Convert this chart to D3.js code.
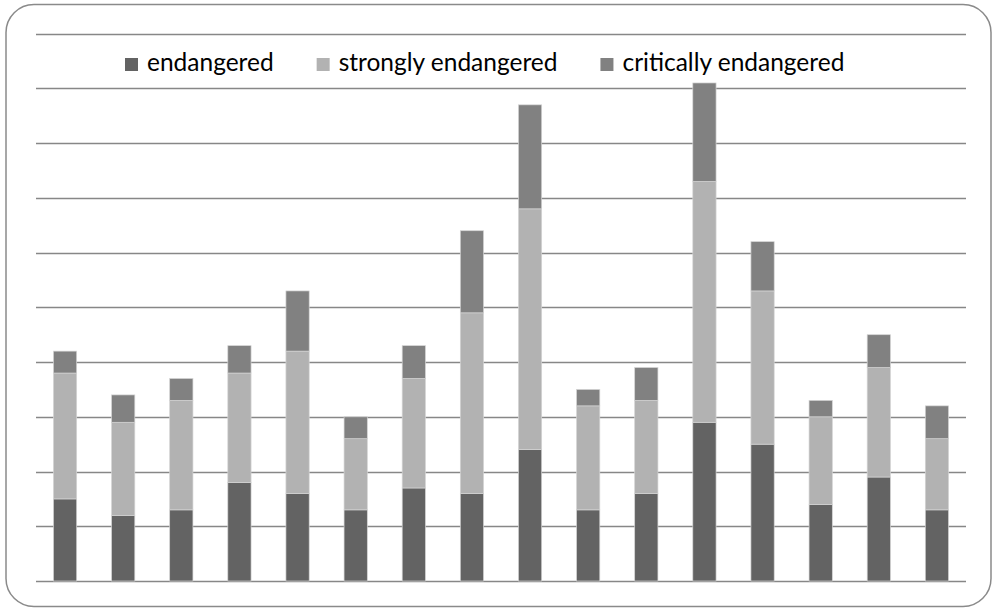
<!DOCTYPE html>
<html>
<head>
<meta charset="utf-8">
<script src="https://cdn.jsdelivr.net/npm/d3@7"></script>
<style>
  html, body { margin: 0; padding: 0; background: #fff; }
  svg { display: block; }
</style>
</head>
<body>
<svg id="chart" width="993" height="609"></svg>
<script>
// ---- data ----
const categories = ["1","2","3","4","5","6","7","8","9","10","11","12","13","14","15","16"];
const endangered         = [15, 12, 13, 18, 16, 13, 17, 16, 24, 13, 16, 29, 25, 14, 19, 13];
const stronglyEndangered = [23, 17, 20, 20, 26, 13, 20, 33, 44, 19, 17, 44, 28, 16, 20, 13];
const criticallyEndangered = [4, 5, 4, 5, 11, 4, 6, 15, 19, 3, 6, 18, 9, 3, 6, 6];
const seriesNames = ["endangered", "strongly endangered", "critically endangered"];
const seriesColors = ["#636363", "#b2b2b2", "#818181"];
const yTicks = [0, 10, 20, 30, 40, 50, 60, 70, 80, 90, 100];

// ---- layout ----
const svg = d3.select("#chart");
const plot = { left: 36, right: 966, top: 33.7, bottom: 581 };

// outer rounded border
svg.append("rect")
  .attr("x", 6).attr("y", 4.5)
  .attr("width", 985).attr("height", 602)
  .attr("rx", 28).attr("ry", 28)
  .attr("fill", "#fff")
  .attr("stroke", "#8a8a8a")
  .attr("stroke-width", 1.5);

const x = d3.scaleBand().domain(categories).range([plot.left, plot.right]).paddingInner(0.6).paddingOuter(0.3);
const y = d3.scaleLinear().domain([0, 100]).range([plot.bottom, plot.top]);

// gridlines
svg.append("g").selectAll("line")
  .data(yTicks)
  .join("line")
  .attr("x1", plot.left).attr("x2", plot.right)
  .attr("y1", d => Math.round(y(d)) + 0.5).attr("y2", d => Math.round(y(d)) + 0.5)
  .attr("stroke", "#878787")
  .attr("stroke-width", 1.6);

// stacked data
const rows = categories.map((c, i) => ({
  cat: c,
  "endangered": endangered[i],
  "strongly endangered": stronglyEndangered[i],
  "critically endangered": criticallyEndangered[i]
}));
const stack = d3.stack().keys(seriesNames)(rows);

svg.append("g").selectAll("g")
  .data(stack)
  .join("g")
  .attr("fill", (d, i) => seriesColors[i])
  .selectAll("rect")
  .data(d => d)
  .join("rect")
  .attr("x", d => x(d.data.cat))
  .attr("width", x.bandwidth())
  .attr("y", d => y(d[1]))
  .attr("height", d => y(d[0]) - y(d[1]))
  .attr("stroke", "#d4d4d4")
  .attr("stroke-width", 0.7);

// legend
const legend = svg.append("g").attr("font-family", "Lato, 'Open Sans', sans-serif");
const targetWidth = 222; // width of "critically endangered" in reference
let fs = 22;
const probe = legend.append("text").attr("font-size", fs).text("critically endangered");
fs = fs * targetWidth / probe.node().getComputedTextLength();
probe.remove();

let lx = 125;
const baseY = 71;
seriesNames.forEach((name, i) => {
  legend.append("rect")
    .attr("x", lx).attr("y", baseY - 13)
    .attr("width", 13).attr("height", 13)
    .attr("fill", seriesColors[i]);
  const t = legend.append("text")
    .attr("x", lx + 22).attr("y", baseY)
    .attr("font-size", fs)
    .attr("fill", "#000")
    .text(name);
  lx = lx + 22 + t.node().getComputedTextLength() + 43;
});
</script>
</body>
</html>
